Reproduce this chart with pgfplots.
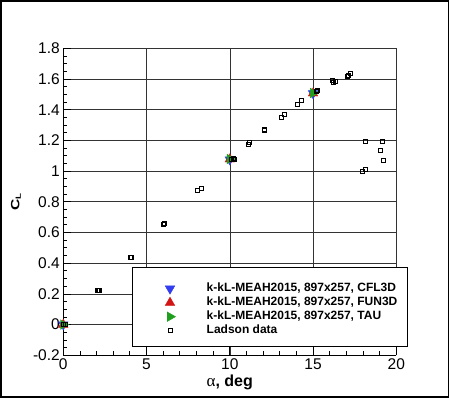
\documentclass[border=0pt]{standalone}
\usepackage{fontspec}
\setmainfont{Liberation Sans}
\newfontfamily\greekserif{Liberation Serif}
\usepackage{graphicx}
\usepackage{pgfplots}
\pgfplotsset{compat=1.18}

\definecolor{cflblue}{RGB}{50,60,240}
\definecolor{funred}{RGB}{210,20,20}
\definecolor{taugreen}{RGB}{30,160,30}

\begin{document}
\begin{tikzpicture}
\path[use as bounding box] (-63.3bp,-45.7bp) rectangle (386.7bp,355.3bp);
\draw[line width=1.5bp] (-62.3bp,-41.7bp) rectangle (385.2bp,354.3bp);
\begin{axis}[
  at={(0,0)}, anchor=south west,
  scale only axis, width=333bp, height=307bp,
  xmin=0, xmax=20, ymin=-0.2, ymax=1.8,
  xtick={0,5,10,15,20}, xticklabels={0,5,10,15,20},
  ytick={-0.2,0,0.2,0.4,0.6,0.8,1,1.2,1.4,1.6,1.8},
  yticklabels={-0.2,0,0.2,0.4,0.6,0.8,1,1.2,1.4,1.6,1.8},
  minor x tick num=4, minor y tick num=3,
  grid=major, major grid style={line width=0.6bp, black!80},
  axis x line*=bottom, axis y line*=left,
  axis line style={line width=1.3bp, black},
  tick align=inside,
  major tick length=8bp, minor tick length=4bp,
  tick style={line width=0.8bp, black},
  ticklabel style={font=\fontsize{15.5bp}{18bp}\selectfont},
  clip=false,
  xlabel={{\mdseries\greekserif\fontsize{17bp}{20bp}\selectfont α}, deg},
  xlabel style={font=\fontsize{16bp}{19bp}\selectfont\bfseries, at={([yshift=-31.2bp]axis description cs:0.5,0)}, anchor=base},
  ylabel={\scalebox{1.3}[1]{C}\raisebox{-1.7bp}{\scalebox{1.3}[1]{\fontsize{7.5bp}{8bp}\selectfont L}}},
  ylabel style={font=\fontsize{12bp}{14bp}\selectfont\bfseries, at={([xshift=-44bp]axis description cs:0,0.5)}, anchor=base},
  legend style={at={(0.3024,0.2365)}, anchor=north west, draw=none, fill=none,
    inner sep=0pt, outer sep=0pt, row sep=2bp,
    font=\fontsize{12bp}{14bp}\selectfont\bfseries,
    nodes={inner sep=0pt, outer sep=0pt, text height=9bp, text depth=3bp},
    cells={anchor=west},
    /tikz/every odd column/.append style={column sep=30.7bp}},
  legend image code/.code={\draw[#1] plot coordinates {(0bp,0bp)}; \path[draw=none,fill=none] (-6bp,-6bp) rectangle (6bp,6bp);},
]
\addplot[only marks, color=cflblue, mark=triangle*, mark size=5.5bp,
  mark options={rotate=180, fill=cflblue, draw=cflblue}]
  coordinates {(0,0) (10,1.075) (15,1.506)};
\addlegendentry{k-kL-MEAH2015, 897x257, CFL3D}
\addplot[only marks, color=funred, mark=triangle*, mark size=5.5bp,
  mark options={fill=funred, draw=funred}]
  coordinates {(0,0) (10,1.077) (15,1.507)};
\addlegendentry{k-kL-MEAH2015, 897x257, FUN3D}
\addplot[only marks, color=taugreen, mark=triangle*, mark size=5.5bp,
  mark options={rotate=-90, fill=taugreen, draw=taugreen}]
  coordinates {(0,0) (10,1.079) (15,1.509)};
\addlegendentry{k-kL-MEAH2015, 897x257, TAU}
\addplot[only marks, color=black, mark=square, mark size=2bp,
  mark options={line width=0.7bp}]
  table {
x y
0.00 0.000
0.10 0.002
2.04 0.221
2.16 0.225
2.10 0.223
4.03 0.435
4.07 0.438
6.02 0.650
6.08 0.657
8.08 0.873
8.27 0.886
10.12 1.078
10.20 1.080
10.30 1.076
11.12 1.174
11.20 1.190
12.06 1.265
12.08 1.270
13.09 1.350
13.27 1.372
14.08 1.435
14.28 1.459
15.19 1.518
15.23 1.528
16.13 1.589
16.23 1.578
16.33 1.587
17.07 1.614
17.13 1.625
17.23 1.640
17.95 0.999
18.17 1.012
18.13 1.192
19.03 1.136
19.19 1.192
19.23 1.068
};
\addlegendentry{Ladson data}
\draw[fill=white, line width=0.8bp] (axis description cs:0.2084,0.0303) rectangle (axis description cs:1.0321,0.2853);
\end{axis}
\end{tikzpicture}
\end{document}
